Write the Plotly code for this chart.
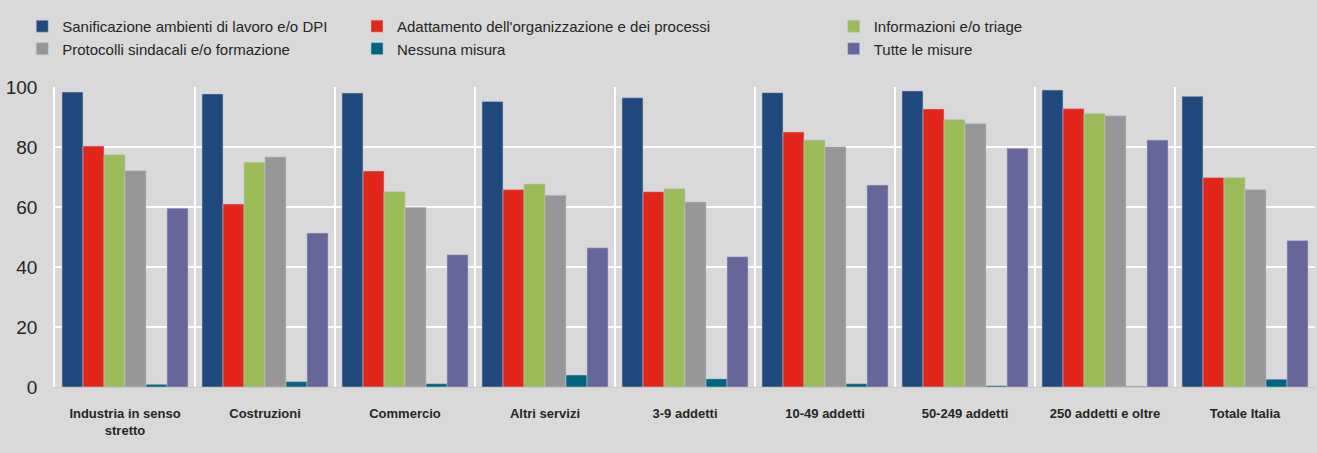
import plotly.graph_objects as go

categories = ["Industria in senso<br>stretto", "Costruzioni", "Commercio", "Altri servizi",
              "3-9 addetti", "10-49 addetti", "50-249 addetti", "250 addetti e oltre", "Totale Italia"]

sanificazione = [98.3, 97.7, 98.0, 95.2, 96.4, 98.1, 98.7, 99.0, 96.9]
adattamento = [80.3, 61.0, 72.0, 65.8, 65.1, 85.0, 92.7, 92.8, 69.8]
informazioni = [77.4, 74.9, 65.1, 67.7, 66.1, 82.3, 89.2, 91.2, 69.8]
protocolli = [72.1, 76.7, 59.9, 63.9, 61.7, 80.1, 87.8, 90.4, 65.8]
nessuna = [0.9, 1.8, 1.1, 4.0, 2.7, 1.1, 0.4, 0.2, 2.6]
tutte = [59.6, 51.3, 44.1, 46.4, 43.4, 67.3, 79.6, 82.3, 48.8]

series = [
    ("Sanificazione ambienti di lavoro e/o DPI", sanificazione, "#1f497d", "legend"),
    ("Adattamento dell'organizzazione e dei processi", adattamento, "#e3261a", "legend2"),
    ("Informazioni e/o triage", informazioni, "#9bbb59", "legend3"),
    ("Protocolli sindacali e/o formazione", protocolli, "#969696", "legend"),
    ("Nessuna misura", nessuna, "#006580", "legend2"),
    ("Tutte le misure", tutte, "#66669a", "legend3"),
]

FONT = "Liberation Sans, Arial, sans-serif"

fig = go.Figure()
for name, vals, color, lg in series:
    fig.add_trace(go.Bar(
        x=categories, y=vals, name=name, legend=lg,
        marker=dict(color=color, line=dict(color="rgba(190,195,210,0.7)", width=0.8)),
    ))

leg_common = dict(orientation="v", yanchor="top", xanchor="left", bgcolor="rgba(0,0,0,0)",
                  font=dict(family=FONT, size=15, color="#262626"), tracegroupgap=0,
                  itemwidth=30)

fig.update_layout(
    width=1317, height=453,
    paper_bgcolor="#d9d9d9", plot_bgcolor="#d9d9d9",
    margin=dict(l=55, r=2, t=87, b=66),
    barmode="group", bargap=0.1, bargroupgap=0,
    font=dict(family=FONT, color="#262626"),
    legend=dict(x=-0.026, y=1.257, **leg_common),
    legend2=dict(x=0.2397, y=1.257, **leg_common),
    legend3=dict(x=0.618, y=1.257, **leg_common),
    xaxis=dict(
        tickson="boundaries", showgrid=True, gridcolor="#ffffff", gridwidth=2,
        ticks="", showline=True, linecolor="#c8c8c8", linewidth=1,
        tickangle=0,
        tickfont=dict(family=FONT, size=13, color="#262626", weight="bold"),
        ticklabelstandoff=14,
    ),
    yaxis=dict(
        range=[0, 100], tickvals=[0, 20, 40, 60, 80, 100],
        showgrid=True, gridcolor="#ffffff", gridwidth=1.5,
        zeroline=False, showline=True, linecolor="#ffffff", linewidth=1.5,
        ticks="", tickfont=dict(family=FONT, size=19, color="#262626"),
        ticklabelstandoff=12,
    ),
)

fig.write_html("out.html", config={"displayModeBar": False},
               post_script="document.body.style.margin='0';")
